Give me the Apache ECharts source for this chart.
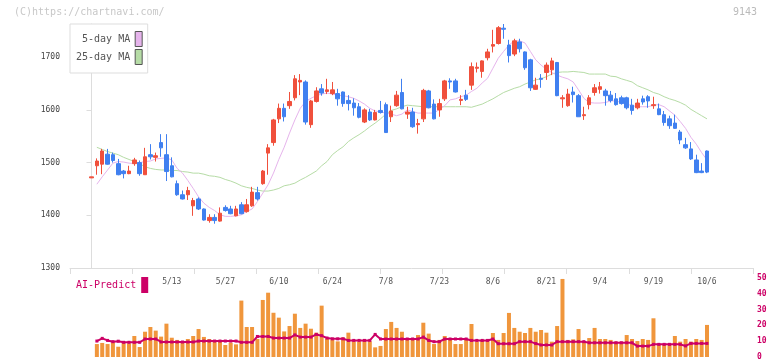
<!DOCTYPE html>
<html><head><meta charset="utf-8">
<script src="https://cdn.jsdelivr.net/npm/echarts@6/dist/echarts.min.js"></script>
<style>html,body{margin:0;padding:0;background:#fff}#c{width:772px;height:361px}</style>
</head><body><div id="c"></div>
<script>
const dates = ['4/17','4/18','4/21','4/22','4/23','4/24','4/25','4/28','4/30','5/1','5/2','5/7','5/8','5/9','5/12','5/13','5/14','5/15','5/16','5/19','5/20','5/21','5/22','5/23','5/26','5/27','5/28','5/29','5/30','6/2','6/3','6/4','6/5','6/6','6/9','6/10','6/11','6/12','6/13','6/16','6/17','6/18','6/19','6/20','6/23','6/24','6/25','6/26','6/27','6/30','7/1','7/2','7/3','7/4','7/7','7/8','7/9','7/10','7/11','7/14','7/15','7/16','7/17','7/18','7/22','7/23','7/24','7/25','7/28','7/29','7/30','7/31','8/1','8/4','8/5','8/6','8/7','8/8','8/12','8/13','8/14','8/15','8/18','8/19','8/20','8/21','8/22','8/25','8/26','8/27','8/28','8/29','9/1','9/2','9/3','9/4','9/5','9/8','9/9','9/10','9/11','9/12','9/16','9/17','9/18','9/19','9/22','9/24','9/25','9/26','9/29','9/30','10/1','10/2','10/3','10/6'];
const labelDates = ['5/13','5/27','6/10','6/24','7/8','7/23','8/6','8/21','9/4','9/19','10/6'];
const priceTicks = [1300,1400,1500,1600,1700];

const open = [1473,1503,1522,1497,1504,1477,1479,1484,1505,1479,
1511,1511,1513,1528,1483,1473,1439,1431,1447,1428,
1412,1391,1396,1390,1404,1409,1403,1412,1403,1420,
1444,1431,1484,1528,1581,1603,1587,1616,1659,1656,
1577,1617,1636,1632,1638,1638,1621,1612,1612,1604,
1586,1600,1581,1595,1595,1557,1598,1628,1602,1596,
1568,1574,1637,1604,1583,1612,1655,1653,1634,1620,
1620,1682,1681,1693,1710,1724,1756,1753,1703,1731,
1716,1680,1642,1647,1658,1685,1693,1627,1623,1630,
1629,1587,1591,1623,1642,1644,1627,1618,1610,1612,
1604,1599,1613,1615,1617,1610,1591,1576,1570,1565,
1543,1528,1507,1481,1481,1482];
const close = [1471,1494,1497,1516,1515,1498,1484,1479,1498,1500,
1477,1515,1510,1538,1515,1494,1460,1439,1439,1418,
1431,1412,1390,1396,1389,1415,1412,1399,1420,1407,
1418,1443,1460,1518,1538,1583,1603,1608,1623,1653,
1653,1572,1616,1640,1635,1631,1631,1634,1618,1613,
1606,1577,1596,1581,1599,1610,1587,1608,1633,1592,
1596,1572,1583,1636,1611,1600,1621,1655,1655,1618,
1628,1647,1679,1673,1699,1721,1726,1755,1723,1706,
1729,1710,1695,1639,1660,1671,1676,1690,1621,1608,
1634,1627,1589,1610,1633,1639,1636,1628,1621,1623,
1623,1609,1604,1621,1625,1608,1602,1591,1583,1575,
1558,1534,1526,1505,1484,1522];
const low = [1471,1477,1478,1496,1500,1476,1470,1478,1494,1475,
1477,1506,1502,1511,1465,1472,1437,1430,1429,1399,
1410,1390,1386,1384,1388,1407,1402,1398,1402,1405,
1416,1428,1458,1477,1532,1575,1578,1602,1618,1628,
1572,1566,1614,1627,1630,1628,1608,1606,1599,1589,
1584,1575,1579,1580,1593,1557,1577,1606,1601,1583,
1566,1555,1577,1603,1582,1587,1617,1640,1633,1609,
1617,1638,1671,1661,1694,1709,1724,1735,1690,1702,
1709,1676,1636,1638,1642,1657,1666,1626,1604,1606,
1614,1587,1581,1601,1627,1631,1608,1614,1608,1610,
1601,1591,1601,1610,1604,1602,1590,1570,1564,1564,
1535,1526,1505,1480,1480,1480];
const high = [1473,1508,1526,1526,1519,1507,1486,1494,1509,1504,
1528,1535,1519,1554,1554,1510,1466,1447,1454,1433,
1434,1413,1402,1402,1415,1419,1418,1418,1425,1431,
1454,1454,1486,1535,1583,1612,1612,1634,1666,1668,
1656,1619,1643,1649,1659,1653,1640,1635,1628,1622,
1613,1603,1602,1600,1617,1614,1608,1636,1659,1606,
1604,1583,1640,1638,1620,1621,1657,1660,1659,1628,
1638,1690,1690,1694,1716,1752,1759,1763,1733,1735,
1735,1711,1697,1661,1668,1690,1699,1691,1628,1640,
1644,1630,1606,1628,1649,1653,1640,1636,1632,1627,
1625,1621,1621,1627,1628,1625,1612,1598,1589,1591,
1562,1547,1539,1515,1499,1523];
const ma5 = ['-',1459,1473,1486,1499,1502,1501,1499,1498,1500,
1502,1503,1507,1508,1509,1505,1489,1480,1466,1451,
1435,1423,1415,1409,1401,1398,1398,1399,1401,1407,
1412,1426,1442,1458,1480,1506,1529,1556,1581,1603,
1616,1622,1627,1630,1632,1630,1628,1627,1625,1622,
1617,1611,1603,1598,1596,1594,1592,1589,1592,1600,
1597,1594,1594,1594,1594,1601,1608,1619,1621,1625,
1628,1635,1641,1651,1660,1679,1698,1711,1723,1731,
1731,1727,1711,1695,1685,1677,1671,1666,1662,1659,
1653,1638,1622,1614,1613,1613,1614,1617,1617,1614,
1611,1608,1606,1606,1606,1609,1610,1606,1598,1590,
1578,1565,1548,1535,1519,1505];
const ma25 = ['-',1529,1525,1521,1518,1515,1510,1506,1502,1498,
1492,1489,1487,1486,1486,1485,1485,1483,1482,1480,
1480,1478,1475,1474,1472,1468,1465,1461,1456,1453,
1451,1448,1446,1446,1448,1451,1456,1458,1461,1467,
1472,1478,1484,1494,1502,1515,1523,1530,1540,1547,
1553,1560,1568,1575,1583,1592,1599,1602,1606,1609,
1608,1607,1606,1606,1606,1606,1606,1606,1606,1606,
1606,1605,1608,1611,1616,1621,1627,1633,1637,1641,
1644,1649,1653,1657,1659,1663,1668,1671,1672,1672,
1673,1672,1671,1668,1668,1668,1668,1664,1663,1659,
1656,1653,1646,1642,1638,1633,1630,1625,1621,1618,
1614,1609,1601,1595,1589,1583];
const volume = ['-',8.2,8.9,8.2,9.3,6.5,9.1,8.6,13.3,6.3,
16,19,16.7,12.9,21.1,12.2,10.8,9.9,11.4,13.3,
17.7,12.7,11.4,9.7,9.7,7.6,9.1,8,35.7,19,
19,11.4,36.1,40.7,28,24.9,16.2,19.6,27.4,18.4,
21.1,17.9,15.4,32.5,11.4,10.8,9.9,12.4,15.4,9.9,
9.7,10.8,9.9,6.1,7,17.7,22.2,18.4,16.0,11.8,
12.0,13.9,21.7,14.8,8.2,10.8,13.3,10.8,8.2,8.2,
10.8,20.9,9.7,10.8,10.8,15.2,10.8,15.2,27.9,18.4,
16.0,15.2,18.4,16.0,17.1,15.4,9.7,19.6,49.4,10.8,
11.2,17.7,9.7,12.0,18.4,11.4,11.4,10.8,9.7,9.7,
13.9,11.4,10.1,11.4,10.8,24.5,7.6,7.6,7.6,13.3,
9.7,11.4,9.7,11.4,10.8,20.3];
const aiPredict = ['-',10.1,11.8,10.5,9.7,10,9.3,9.3,9.3,9.3,
11.4,11.4,11.4,9.5,9.5,9.5,9.5,9.5,9.5,9.5,
10.1,10.1,10.1,10.1,10.1,10.1,10.1,10.1,9.3,9.3,
9.3,13,13,13,12,12,12,12,14,12.6,
12.6,12.6,14.3,13.5,12,11.5,11.5,11.5,10.5,10.5,
10.5,10.5,10.5,14.3,11.4,11.4,11.4,11.4,11.4,11.4,
11.4,11.4,12.6,10.5,9.7,9.7,11.4,11.4,11.4,11.4,
11.4,10.5,10.5,10.5,10.5,11.4,8.4,8.4,8.4,8.4,
9.7,9.7,9.7,8.5,7.6,7.6,7.6,9.7,9.7,9.7,
9.7,9.7,9.7,9,9,9,9,9,9,9,
9,9,6.9,6.9,6.9,8,8,8,8,8,
8,7,8.6,8.6,8.6,8.6];

const MONO = 'DejaVu Sans Mono';
const RED = '#f0503c', BLUE = '#4080f0', PINK = '#e6b4ec', GREEN = '#b6dca6';
const CRIMSON = '#cc0066', ORANGE = '#f0963c';
const XMIN = -4.02, XMAX = 123.6;

const candleData = dates.map((d, i) => [i, open[i], close[i], low[i], high[i]]);
const pair = arr => arr.map((v, i) => [i, v]);
const labelIdx = labelDates.map(d => dates.indexOf(d));

const chart = echarts.init(document.getElementById('c'), null, {renderer: 'canvas'});
chart.setOption({
  animation: false,
  backgroundColor: '#fff',
  title: [
    {text: '(C)https://chartnavi.com/', left: 9, top: 2,
     textStyle: {fontFamily: MONO, fontSize: 10, fontWeight: 'normal', color: '#c8c8c8'}},
    {text: '9143', right: 10, top: 2,
     textStyle: {fontFamily: MONO, fontSize: 10, fontWeight: 'normal', color: '#bbbbbb'}}
  ],
  legend: [
    {orient: 'vertical', left: 70, top: 24, align: 'right', selectedMode: false,
     itemWidth: 7, itemHeight: 15, itemGap: 2, padding: [7, 5, 8, 6],
     backgroundColor: '#fff', borderColor: '#dddddd', borderWidth: 1, z: 20,
     textStyle: {fontFamily: MONO, fontSize: 10, color: '#555'},
     data: [
       {name: '5-day MA', icon: 'rect', itemStyle: {color: PINK, borderColor: '#555', borderWidth: 1}},
       {name: '25-day MA', icon: 'rect', itemStyle: {color: GREEN, borderColor: '#555', borderWidth: 1}}
     ]},
    {orient: 'horizontal', left: 76, top: 277, align: 'right', selectedMode: false,
     itemWidth: 7, itemHeight: 16, padding: 0,
     textStyle: {fontFamily: MONO, fontSize: 10, color: CRIMSON},
     data: [{name: 'AI-Predict', icon: 'rect', itemStyle: {color: CRIMSON, borderWidth: 0}}]}
  ],
  grid: [
    {left: 70, right: 19, top: 24, bottom: 93},
    {left: 70, right: 19, top: 278, bottom: 4}
  ],
  xAxis: [
    {gridIndex: 0, type: 'value', min: XMIN, max: XMAX, position: 'bottom',
     axisLine: {show: false}, axisTick: {show: false}, splitLine: {show: false},
     axisLabel: {customValues: labelIdx, formatter: v => dates[v], margin: 10,
       fontFamily: MONO, fontSize: 8, color: '#555'}},
    {gridIndex: 0, type: 'value', min: 0, max: 11, interval: 1, position: 'bottom',
     axisLine: {show: true, lineStyle: {color: '#dddddd', width: 1}},
     axisTick: {show: true, length: 6, lineStyle: {color: '#dddddd'}},
     axisLabel: {show: false}, splitLine: {show: false}},
    {gridIndex: 1, type: 'value', min: XMIN, max: XMAX, show: false, splitLine: {show: false}}
  ],
  yAxis: [
    {gridIndex: 0, type: 'value', min: 1300, max: 1763, scale: true,
     axisLine: {show: true, lineStyle: {color: '#dddddd', width: 1}},
     axisTick: {show: true, length: 5, customValues: priceTicks, lineStyle: {color: '#dddddd'}},
     axisLabel: {customValues: priceTicks, formatter: v => String(v), margin: 10,
       fontFamily: MONO, fontSize: 8, color: '#444'},
     splitLine: {show: false}},
    {gridIndex: 1, type: 'value', min: 0, max: 50, interval: 10, position: 'right',
     axisLine: {show: false}, axisTick: {show: false}, splitLine: {show: false},
     axisLabel: {margin: 4, fontFamily: MONO, fontSize: 8, fontWeight: 'bold', color: CRIMSON}}
  ],
  series: [
    {name: '25-day MA', type: 'line', xAxisIndex: 0, yAxisIndex: 0, data: pair(ma25),
     showSymbol: false, symbol: 'none', lineStyle: {color: GREEN, width: 1}, itemStyle: {color: GREEN}, z: 2},
    {name: '5-day MA', type: 'line', xAxisIndex: 0, yAxisIndex: 0, data: pair(ma5),
     showSymbol: false, symbol: 'none', lineStyle: {color: PINK, width: 1}, itemStyle: {color: PINK}, z: 2},
    {name: 'price', type: 'candlestick', xAxisIndex: 0, yAxisIndex: 0, data: candleData,
     encode: {x: 0, y: [1, 2, 3, 4]}, barWidth: 4, z: 3,
     itemStyle: {color: BLUE, color0: RED, borderColor: BLUE, borderColor0: RED, borderWidth: 1}},
    {name: 'volume', type: 'bar', xAxisIndex: 2, yAxisIndex: 1, data: pair(volume),
     barWidth: 4, itemStyle: {color: ORANGE}, z: 2},
    {name: 'AI-Predict', type: 'line', xAxisIndex: 2, yAxisIndex: 1, data: pair(aiPredict),
     symbol: 'rect', symbolSize: 3, showSymbol: true,
     lineStyle: {color: CRIMSON, width: 2}, itemStyle: {color: CRIMSON}, z: 3}
  ]
});
</script></body></html>
